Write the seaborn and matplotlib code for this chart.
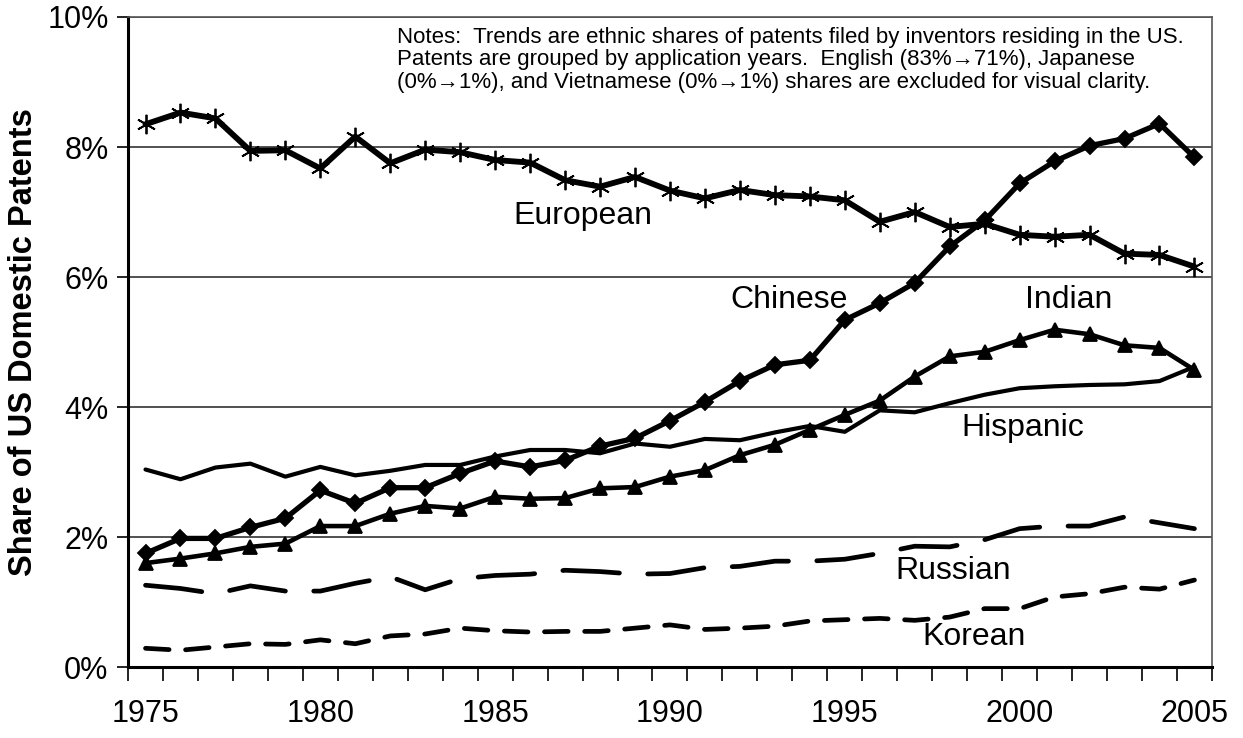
import numpy as np
import pandas as pd
import matplotlib
matplotlib.use("Agg")
import matplotlib.pyplot as plt
import seaborn as sns
from matplotlib.ticker import FixedLocator, FuncFormatter

# Years (application years)
years = list(range(1975, 2006))

# Ethnic shares of US domestic patents (%)
european = [8.35, 8.53, 8.44, 7.94, 7.95, 7.67, 8.16, 7.75, 7.96, 7.92, 7.80,
            7.76, 7.49, 7.39, 7.54, 7.33, 7.21, 7.34, 7.26, 7.24, 7.18,
            6.85, 7.00, 6.77, 6.82, 6.65, 6.62, 6.65, 6.36, 6.34, 6.16]
chinese = [1.75, 1.98, 1.98, 2.15, 2.29, 2.72, 2.52, 2.76, 2.76, 2.98, 3.17,
           3.08, 3.18, 3.40, 3.52, 3.79, 4.08, 4.40, 4.65, 4.72, 5.34,
           5.60, 5.91, 6.47, 6.87, 7.44, 7.78, 8.02, 8.13, 8.36, 7.84]
indian = [1.60, 1.67, 1.75, 1.85, 1.90, 2.17, 2.17, 2.36, 2.48, 2.44, 2.62,
          2.59, 2.60, 2.75, 2.77, 2.93, 3.03, 3.26, 3.42, 3.65, 3.88,
          4.10, 4.47, 4.78, 4.85, 5.03, 5.19, 5.12, 4.95, 4.91, 4.57]
hispanic = [3.04, 2.89, 3.07, 3.13, 2.93, 3.08, 2.95, 3.02, 3.11, 3.11, 3.24,
            3.34, 3.34, 3.29, 3.44, 3.39, 3.51, 3.49, 3.61, 3.71, 3.62,
            3.95, 3.92, 4.06, 4.19, 4.29, 4.32, 4.34, 4.35, 4.40, 4.62]
russian = [1.26, 1.21, 1.13, 1.25, 1.17, 1.17, 1.29, 1.39, 1.19, 1.36, 1.41,
           1.43, 1.49, 1.47, 1.43, 1.44, 1.53, 1.55, 1.63, 1.63, 1.66,
           1.75, 1.86, 1.85, 1.96, 2.13, 2.17, 2.17, 2.31, 2.22, 2.13]
korean = [0.29, 0.26, 0.31, 0.36, 0.35, 0.42, 0.36, 0.48, 0.51, 0.60, 0.56,
          0.54, 0.55, 0.55, 0.60, 0.65, 0.58, 0.60, 0.63, 0.71, 0.73,
          0.75, 0.72, 0.77, 0.90, 0.90, 1.08, 1.13, 1.23, 1.20, 1.34]

notes = ("Notes:  Trends are ethnic shares of patents filed by inventors residing in the US.\n"
         "Patents are grouped by application years.  English (83%\u219271%), Japanese\n"
         "(0%\u21921%), and Vietnamese (0%\u21921%) shares are excluded for visual clarity.")

sns.set_style("white")
plt.rcParams['font.family'] = ['Liberation Sans', 'DejaVu Sans']
plt.rcParams['text.color'] = 'black'
plt.rcParams['axes.labelcolor'] = 'black'
plt.rcParams['xtick.color'] = 'black'
plt.rcParams['ytick.color'] = 'black'

fig = plt.figure(figsize=(12.43, 7.38), dpi=100)
ax = fig.add_axes([0.103, 0.096, 0.872, 0.881])

# series: (values, marker, markersize, linewidth, linestyle)
series = [
    (european, (6, 2, 0), 14, 4.2, '-'),
    (chinese, 'D', 8, 3.8, '-'),
    (indian, '^', 10, 3.3, '-'),
    (hispanic, None, 0, 3.0, '-'),
    (russian, None, 0, 3.4, (0, (12, 6))),
    (korean, None, 0, 3.4, (0, (5, 3.5))),
]
for vals, mk, ms, lw, ls in series:
    sns.lineplot(x=years, y=vals, ax=ax, color='black', marker=mk,
                 markersize=ms, markeredgewidth=1.3, markeredgecolor='black',
                 linewidth=lw, linestyle=ls, dash_capstyle='round')

ax.set_xlim(1974.5, 2005.5)
ax.set_ylim(0, 10)

# gridlines and y ticks
ax.yaxis.set_major_locator(FixedLocator([0, 2, 4, 6, 8, 10]))
ax.yaxis.set_major_formatter(FuncFormatter(lambda v, p: f"{v:.0f}%"))
ax.grid(axis='y', color='#333333', linewidth=1.2)
ax.tick_params(axis='y', which='major', direction='out', length=8, width=1.2,
               color='black', labelsize=22, left=True, pad=6)

ax.xaxis.set_major_locator(FixedLocator(years[::5]))
ax.xaxis.set_minor_locator(FixedLocator(np.arange(1974.5, 2006, 1)))
ax.tick_params(axis='x', which='major', length=0, labelsize=22, pad=23)
ax.tick_params(axis='x', which='minor', direction='out', length=10, width=1.2,
               color='black', bottom=True)

for s in ['left', 'bottom']:
    ax.spines[s].set_color('black')
    ax.spines[s].set_linewidth(2.2)
for s in ['top', 'right']:
    ax.spines[s].set_color('#555555')
    ax.spines[s].set_linewidth(1.2)

ax.set_xlabel("")
ax.set_ylabel("Share of US Domestic Patents", fontsize=23.5, fontweight='bold', labelpad=6)

# series labels
lab = dict(fontsize=23, ha='center', va='center')
ax.text(1987.5, 6.94, "European", **lab)
ax.text(1993.4, 5.65, "Chinese", **lab)
ax.text(2001.4, 5.65, "Indian", **lab)
ax.text(2000.1, 3.68, "Hispanic", **lab)
ax.text(1998.1, 1.48, "Russian", **lab)
ax.text(1998.7, 0.46, "Korean", **lab)

ax.text(0.2485, 0.985, notes, transform=ax.transAxes, fontsize=16,
        ha='left', va='top', linespacing=1.1)

fig.savefig("out.png", dpi=100)
